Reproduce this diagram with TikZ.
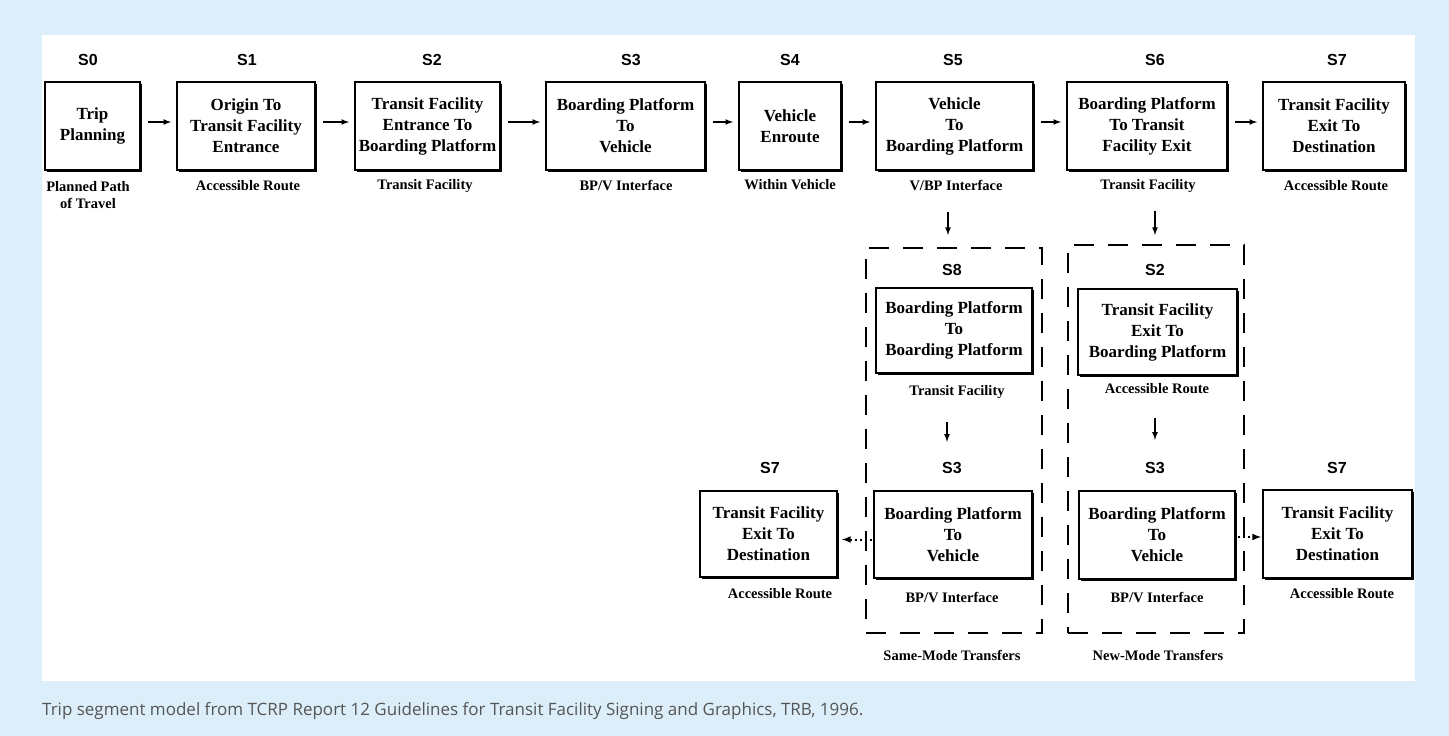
\documentclass[tikz,border=0pt]{standalone}
\usepackage{fontspec}
\setmainfont{Liberation Serif}
\setsansfont{Liberation Sans}
\newfontfamily\captionfont{Open Sans}
\usetikzlibrary{shadows}
\definecolor{panelblue}{RGB}{220,238,249}
\definecolor{captiongray}{RGB}{85,85,85}
\tikzset{
  seg/.style={draw, line width=1.8pt, fill=white, align=center, inner sep=0pt,
    minimum height=88pt, font=\fontsize{17}{21}\selectfont\bfseries,
    drop shadow={shadow xshift=1.8pt, shadow yshift=-1.8pt, fill=black, opacity=1}},
  segid/.style={font=\sffamily\bfseries\fontsize{16}{18}\selectfont},
  segsub/.style={align=center, font=\fontsize{14.5}{17}\selectfont\bfseries},
  grp/.style={draw, line width=2pt, dash pattern=on 20pt off 14pt, inner sep=0pt},
  dotarrow/.style={->, line width=2pt, dash pattern=on 2pt off 3pt},
}
\begin{document}
\begin{tikzpicture}[>=latex, x=1pt, y=-1pt]
\fill[panelblue](0,0)rectangle(1449,736);
\fill[white](42,35)rectangle(1415,681);

% main row
\node[seg, minimum width=95pt] (s0) at (92.5,126) {Trip\\Planning};
\node[seg, minimum width=138pt] (s1) at (246,126) {Origin To\\Transit Facility\\Entrance};
\node[seg, minimum width=145pt] (s2) at (427.5,126) {Transit Facility\\Entrance To\\Boarding Platform};
\node[seg, minimum width=159pt] (s3) at (625.5,126) {Boarding Platform\\To\\Vehicle};
\node[seg, minimum width=102pt] (s4) at (790,126) {Vehicle\\Enroute};
\node[seg, minimum width=157pt] (s5) at (954.5,126) {Vehicle\\To\\Boarding Platform};
\node[seg, minimum width=160pt] (s6) at (1147,126) {Boarding Platform\\To Transit\\Facility Exit};
\node[seg, minimum width=142pt] (s7) at (1334,126) {Transit Facility\\Exit To\\Destination};

\node[segid] (id0) at (88,60) {S0};
\node[segid] (id1) at (247,60) {S1};
\node[segid] (id2) at (432,60) {S2};
\node[segid] (id3) at (631,60) {S3};
\node[segid] (id4) at (790,60) {S4};
\node[segid] (id5) at (953,60) {S5};
\node[segid] (id6) at (1155,60) {S6};
\node[segid] (id7) at (1337,60) {S7};

\node[segsub] (sub0) at (88,195) {Planned Path\\of Travel};
\node[segsub] (sub1) at (248,186) {Accessible Route};
\node[segsub] (sub2) at (425,186) {Transit Facility};
\node[segsub] (sub3) at (626,186) {BP/V Interface};
\node[segsub] (sub4) at (790,185) {Within Vehicle};
\node[segsub] (sub5) at (956,186) {V/BP Interface};
\node[segsub] (sub6) at (1148,186) {Transit Facility};
\node[segsub] (sub7) at (1336,186) {Accessible Route};

\foreach \a/\b in {s0/s1, s1/s2, s2/s3, s3/s4, s4/s5, s5/s6, s6/s7}
{
    \draw[->, line width=1.6pt, shorten <=7pt, shorten >=5pt]([yshift=4pt]\a.east)--([yshift=4pt]\b.west);
}

% transfer groups
\node[grp, minimum width=176pt, minimum height=385pt] (same) at (954,440.5) {};
\node[grp, minimum width=176pt, minimum height=388pt] (new) at (1156,439) {};
\node[segsub] (samelbl) at (952,655) {Same-Mode Transfers};
\node[segsub] (newlbl) at (1158,655) {New-Mode Transfers};

\node[segid] (id8) at (952,270) {S8};
\node[seg, minimum width=156pt, minimum height=85pt] (s8) at (954,330.5) {Boarding Platform\\To\\Boarding Platform};
\node[segsub] (sub8) at (957,392) {Transit Facility};
\node[segid] (id3a) at (952,468) {S3};
\node[seg, minimum width=158pt, minimum height=87pt] (s3a) at (953,534.5) {Boarding Platform\\To\\Vehicle};
\node[segsub] (sub3a) at (952,597) {BP/V Interface};

\node[segid] (id2b) at (1155,270) {S2};
\node[seg, minimum width=159pt, minimum height=86pt] (s2b) at (1157.5,332) {Transit Facility\\Exit To\\Boarding Platform};
\node[segsub] (sub2b) at (1157,389) {Accessible Route};
\node[segid] (id3b) at (1155,468) {S3};
\node[seg, minimum width=156pt] (s3b) at (1157,535) {Boarding Platform\\To\\Vehicle};
\node[segsub] (sub3b) at (1157,597) {BP/V Interface};

\node[segid] (id7a) at (770,468) {S7};
\node[seg, minimum width=137pt, minimum height=86pt] (s7a) at (768.5,534) {Transit Facility\\Exit To\\Destination};
\node[segsub] (sub7a) at (780,594) {Accessible Route};
\node[segid] (id7b) at (1337,468) {S7};
\node[seg, minimum width=149pt] (s7b) at (1337.5,534) {Transit Facility\\Exit To\\Destination};
\node[segsub] (sub7b) at (1342,594) {Accessible Route};

\draw[->, line width=1.6pt, shorten <=17pt, shorten >=12pt]([xshift=-8pt]sub5.south)--([xshift=-8pt]sub5.south|-same.north);
\draw[->, line width=1.6pt, shorten <=15pt, shorten >=9pt]([xshift=7pt]sub6.south)--([xshift=7pt]sub6.south|-new.north);
\draw[->, line width=1.6pt, shorten <=20pt, shorten >=17pt]([xshift=-10pt]sub8.south)--([xshift=-10pt]sub8.south|-id3a.north);
\draw[->, line width=1.6pt, shorten <=20pt, shorten >=19pt]([xshift=-2pt]sub2b.south)--([xshift=-2pt]sub2b.south|-id3b.north);

\draw[dotarrow, shorten <=1pt, shorten >=4pt]([yshift=-5pt]s3a.west)--([yshift=-5pt]s3a.west-|s7a.east);
\draw[dotarrow, shorten <=2pt, shorten >=1pt]([yshift=-2pt]s3b.east)--([yshift=-2pt]s3b.east-|s7b.west);

\node[anchor=west, inner sep=0pt, text=captiongray, font=\captionfont\fontsize{17}{20}\selectfont] (caption) at (42,711) {Trip segment model from TCRP Report 12 Guidelines for Transit Facility Signing and Graphics, TRB, 1996.};
\end{tikzpicture}
\end{document}
